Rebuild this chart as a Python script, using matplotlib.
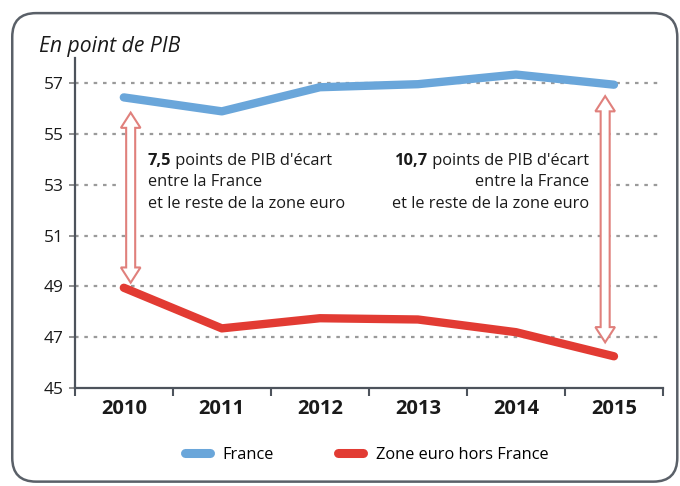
import numpy as np
import matplotlib.pyplot as plt
from matplotlib.patches import FancyBboxPatch, Polygon, Rectangle

years = ['2010', '2011', '2012', '2013', '2014', '2015']
france = [56.45, 55.9, 56.85, 56.97, 57.35, 56.95]
zone_euro = [48.95, 47.35, 47.75, 47.7, 47.2, 46.25]
yticks = [45, 47, 49, 51, 53, 55, 57]

blue = '#6aa6da'
red = '#e23b33'
arrow_col = '#e0807c'
axis_col = '#4d535c'
font = 'Open Sans'

fig = plt.figure(figsize=(6.8, 4.86), dpi=100)
ax = fig.add_axes([0.110, 0.2016, 0.865, 0.680])
x = np.arange(len(years))

# rounded frame around everything
frame = FancyBboxPatch((0.018, 0.009), 0.978, 0.964, boxstyle='round,pad=0,rounding_size=0.035',
                       transform=fig.transFigure, fc='none', ec='#5a6068', lw=1.8,
                       mutation_aspect=680 / 486)
fig.patches.append(frame)

# dotted gridlines
for v in yticks[1:]:
    ax.axhline(v, color='#9a9a9a', lw=1.6, ls=(0, (1.6, 2.6)), zorder=1)
# the annotation block hides part of the 53 line
ax.add_patch(Rectangle((-0.04, 52.4), 5.0, 1.2, fc='white', ec='none', zorder=1.5))

l1, = ax.plot(x, france, color=blue, lw=6, solid_capstyle='round', solid_joinstyle='round', zorder=3)
l2, = ax.plot(x, zone_euro, color=red, lw=6, solid_capstyle='round', solid_joinstyle='round', zorder=3)


def double_arrow(xc, yt, yb, hw=0.046, HW=0.1, hl=0.6):
    pts = [(xc, yt), (xc + HW, yt - hl), (xc + hw, yt - hl), (xc + hw, yb + hl),
           (xc + HW, yb + hl), (xc, yb), (xc - HW, yb + hl), (xc - hw, yb + hl),
           (xc - hw, yt - hl), (xc - HW, yt - hl)]
    ax.add_patch(Polygon(pts, closed=True, fc='white', ec=arrow_col, lw=1.5, zorder=4))


double_arrow(0.07, france[0] - 0.6, zone_euro[0] + 0.2)
double_arrow(4.91, france[5] - 0.45, zone_euro[5] + 0.55)

fs = 11.8
tc = '#1a1a1a'
# left annotation
t1 = ax.text(0.245, 53.95, '7,5', fontsize=fs, fontweight='bold', family=font,
             va='center', ha='left', color=tc, zorder=5)
ax.annotate(" points de PIB d'écart", xy=(1, 0), xycoords=t1, va='bottom', ha='left',
            fontsize=fs, family=font, color=tc, zorder=5)
ax.text(0.245, 53.1, 'entre la France', fontsize=fs, family=font, va='center', ha='left',
        color=tc, zorder=5)
ax.text(0.245, 52.25, 'et le reste de la zone euro', fontsize=fs, family=font, va='center',
        ha='left', color=tc, zorder=5)

# right annotation
t2 = ax.text(4.745, 53.95, " points de PIB d'écart", fontsize=fs, family=font,
             va='center', ha='right', color=tc, zorder=5)
ax.annotate('10,7', xy=(0, 0), xycoords=t2, va='bottom', ha='right', fontsize=fs,
            fontweight='bold', family=font, color=tc, zorder=5)
ax.text(4.745, 53.1, 'entre la France', fontsize=fs, family=font, va='center', ha='right',
        color=tc, zorder=5)
ax.text(4.745, 52.25, 'et le reste de la zone euro', fontsize=fs, family=font, va='center',
        ha='right', color=tc, zorder=5)

ax.set_xlim(-0.5, 5.5)
ax.set_ylim(45, 58.02)
ax.set_yticks(yticks)
ax.set_yticklabels([str(v) for v in yticks], fontsize=12.5, family=font, color=tc)
ax.set_xticks(x)
ax.set_xticklabels(years, fontsize=14.5, fontweight='bold', family=font, color=tc)
ax.set_xticks(np.arange(-0.5, 6, 1), minor=True)
ax.tick_params(axis='x', which='major', length=0, pad=8)
ax.tick_params(axis='x', which='minor', length=6, width=1.5, color=axis_col, direction='out')
ax.tick_params(axis='y', length=4, width=1.3, color='#888888', pad=4)
for s in ['top', 'right']:
    ax.spines[s].set_visible(False)
for s in ['left', 'bottom']:
    ax.spines[s].set_color(axis_col)
    ax.spines[s].set_linewidth(1.6)

fig.text(0.057, 0.905, 'En point de PIB', fontsize=15.2, style='italic', family=font,
         color=tc, va='center')

leg = fig.legend([l1, l2], ['France', 'Zone euro hors France'], loc='center',
                 bbox_to_anchor=(0.539, 0.064), ncol=2, frameon=False, handlelength=1.55,
                 columnspacing=3.9, handletextpad=0.75, prop={'family': font, 'size': 11.8})
for h in leg.legend_handles:
    h.set_linewidth(6.5)
    h.set_solid_capstyle('round')

fig.savefig('out.png', dpi=100)
